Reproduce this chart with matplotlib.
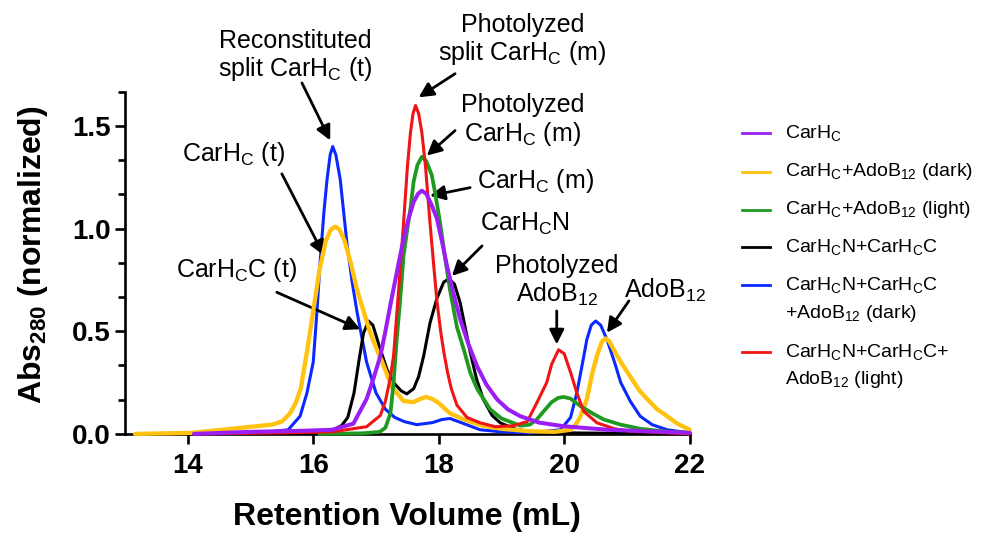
import matplotlib
matplotlib.use("Agg")
import matplotlib.pyplot as plt
from matplotlib.lines import Line2D
from matplotlib.ticker import MultipleLocator, FormatStrFormatter

plt.rcParams['font.family'] = ['Liberation Sans', 'DejaVu Sans']
plt.rcParams['mathtext.fontset'] = 'custom'
plt.rcParams['mathtext.rm'] = 'Liberation Sans'
plt.rcParams['mathtext.bf'] = 'Liberation Sans:bold'
plt.rcParams['mathtext.default'] = 'regular'

# CarHC
x_purple = [14.1, 15.0, 15.8, 16.3, 16.64, 16.85, 16.96, 17.07, 17.15, 17.23, 17.34, 17.44, 17.52, 17.6, 17.67,
            17.73, 17.8, 17.88, 17.97, 18.05, 18.13, 18.23, 18.34, 18.47, 18.61, 18.76, 18.93, 19.1, 19.3,
            19.6, 20.0, 20.7, 22.0]
y_purple = [0.0, 0.01, 0.015, 0.02, 0.05, 0.17, 0.27, 0.38, 0.5, 0.63, 0.8, 0.95, 1.05, 1.13, 1.17,
            1.185, 1.17, 1.12, 1.05, 0.94, 0.82, 0.69, 0.56, 0.44, 0.33, 0.24, 0.168, 0.12, 0.086,
            0.055, 0.037, 0.02, 0.005]

# CarHC + AdoB12 (dark)
x_yellow = [13.16, 14.06, 14.86, 15.34, 15.5, 15.63, 15.72, 15.8, 15.9, 16.0, 16.1, 16.2, 16.28, 16.35, 16.42,
            16.5, 16.6, 16.7, 16.8, 16.9, 17.0, 17.1, 17.25, 17.44, 17.6, 17.7, 17.8, 17.9, 18.0, 18.18,
            18.4, 18.7, 19.0, 19.45, 19.85, 20.1, 20.18, 20.25, 20.3, 20.36, 20.45, 20.52, 20.6, 20.66,
            20.72, 20.79, 20.9, 21.05, 21.2, 21.32, 21.48, 21.64, 21.8, 22.0]
y_yellow = [0.0, 0.005, 0.03, 0.045, 0.06, 0.1, 0.15, 0.22, 0.4, 0.6, 0.8, 0.94, 0.995, 1.01, 0.995,
            0.94, 0.83, 0.7, 0.6, 0.5, 0.42, 0.35, 0.23, 0.16, 0.155, 0.17, 0.18, 0.17, 0.15, 0.1,
            0.07, 0.04, 0.025, 0.013, 0.01, 0.02, 0.045, 0.08, 0.12, 0.17, 0.3, 0.38, 0.45, 0.465,
            0.45, 0.41, 0.35, 0.28, 0.21, 0.17, 0.12, 0.086, 0.05, 0.02]

# CarHC + AdoB12 (light)
x_green = [16.1, 16.8, 17.06, 17.15, 17.23, 17.28, 17.33, 17.39, 17.44, 17.5, 17.55, 17.6, 17.66, 17.73,
           17.8, 17.89, 17.95, 18.02, 18.1, 18.18, 18.29, 18.4, 18.5, 18.61, 18.82, 19.0, 19.3, 19.45,
           19.56, 19.7, 19.8, 19.9, 19.99, 20.1, 20.26, 20.45, 20.63, 20.9, 21.21, 21.6, 22.0]
y_green = [0.0, 0.003, 0.01, 0.03, 0.1, 0.25, 0.46, 0.67, 0.87, 1.0, 1.1, 1.23, 1.31, 1.35,
           1.33, 1.26, 1.16, 1.03, 0.86, 0.7, 0.52, 0.41, 0.3, 0.22, 0.12, 0.075, 0.04, 0.045,
           0.07, 0.12, 0.155, 0.175, 0.18, 0.172, 0.135, 0.1, 0.07, 0.045, 0.025, 0.012, 0.005]

# CarHCN + CarHCC
x_black = [14.0, 15.5, 16.0, 16.32, 16.45, 16.55, 16.65, 16.73, 16.8, 16.88, 16.95, 17.06, 17.18, 17.28,
           17.4, 17.49, 17.6, 17.68, 17.76, 17.86, 17.97, 18.08, 18.16, 18.25, 18.34, 18.42, 18.5, 18.6,
           18.71, 18.85, 18.98, 19.2, 19.41, 20.0, 22.0]
y_black = [0.0, 0.005, 0.01, 0.02, 0.04, 0.08, 0.2, 0.36, 0.49, 0.55, 0.53, 0.42, 0.31, 0.25,
           0.21, 0.195, 0.22, 0.28, 0.38, 0.54, 0.66, 0.74, 0.755, 0.73, 0.64, 0.52, 0.4, 0.27,
           0.168, 0.09, 0.054, 0.025, 0.013, 0.005, 0.0]

# CarHCN + CarHCC + AdoB12 (dark)
x_blue = [14.5, 15.3, 15.6, 15.79, 15.9, 16.0, 16.06, 16.11, 16.17, 16.22, 16.27, 16.31, 16.36, 16.43,
          16.54, 16.62, 16.7, 16.85, 17.0, 17.15, 17.3, 17.45, 17.65, 17.9, 18.05, 18.18, 18.4, 18.66,
          19.0, 19.45, 19.94, 20.1, 20.2, 20.3, 20.36, 20.43, 20.5, 20.58, 20.68, 20.8, 20.9, 21.05,
          21.21, 21.4, 21.64, 22.0]
y_blue = [0.0, 0.01, 0.02, 0.086, 0.2, 0.35, 0.6, 0.84, 1.08, 1.24, 1.36, 1.40, 1.36, 1.24,
          0.92, 0.74, 0.59, 0.35, 0.2, 0.12, 0.08, 0.06, 0.045, 0.055, 0.07, 0.075, 0.05, 0.02,
          0.01, 0.005, 0.02, 0.08, 0.2, 0.36, 0.46, 0.53, 0.55, 0.53, 0.46, 0.35, 0.25, 0.16,
          0.086, 0.045, 0.02, 0.005]

# CarHCN + CarHCC + AdoB12 (light)
x_red = [14.2, 15.5, 16.3, 16.85, 17.07, 17.15, 17.22, 17.28, 17.36, 17.44, 17.5, 17.55, 17.59, 17.63,
         17.68, 17.73, 17.79, 17.86, 17.92, 17.97, 18.03, 18.08, 18.14, 18.2, 18.29, 18.45, 18.66, 18.9,
         19.19, 19.41, 19.56, 19.72, 19.8, 19.91, 20.0, 20.1, 20.2, 20.31, 20.52, 20.8, 21.05, 22.0]
y_red = [0.0, 0.005, 0.01, 0.035, 0.09, 0.16, 0.26, 0.38, 0.7, 1.03, 1.3, 1.47, 1.56, 1.60,
         1.56, 1.47, 1.3, 1.03, 0.82, 0.65, 0.5, 0.4, 0.3, 0.22, 0.14, 0.08, 0.054, 0.035,
         0.04, 0.06, 0.15, 0.25, 0.34, 0.41, 0.39, 0.3, 0.2, 0.11, 0.054, 0.025, 0.013, 0.0]

labels = [r'CarH$_C$', r'CarH$_C$+AdoB$_{12}$ (dark)', r'CarH$_C$+AdoB$_{12}$ (light)',
          r'CarH$_C$N+CarH$_C$C', 'CarH$_C$N+CarH$_C$C\n+AdoB$_{12}$ (dark)',
          'CarH$_C$N+CarH$_C$C+\nAdoB$_{12}$ (light)']

fig = plt.figure(figsize=(9.84, 5.37), dpi=100)
ax = fig.add_axes([0.127, 0.192, 0.574, 0.637])

series = [(x_purple, y_purple, '#9B1EF5', 2.9, 3.6),
          (x_yellow, y_yellow, '#FFC20E', 3.1, 3.2),
          (x_green, y_green, '#1F9A1F', 2.7, 3.3),
          (x_black, y_black, 'black', 2.2, 3.1),
          (x_blue, y_blue, '#0A28FF', 2.2, 3.0),
          (x_red, y_red, '#F01414', 2.2, 3.4)]
for xs, ys, c, lw, z in series:
    ax.plot(xs, ys, color=c, lw=lw, zorder=z, clip_on=False,
            solid_joinstyle='round', solid_capstyle='round')

ax.set_xlim(13, 22)
ax.set_ylim(0, 1.6667)
ax.set_xticks([14, 16, 18, 20, 22])
ax.yaxis.set_major_locator(MultipleLocator(0.5))
ax.yaxis.set_minor_locator(MultipleLocator(0.5 / 3))
ax.yaxis.set_major_formatter(FormatStrFormatter('%.1f'))
for s in ['top', 'right']:
    ax.spines[s].set_visible(False)
for s in ['left', 'bottom']:
    ax.spines[s].set_linewidth(1.9)
ax.tick_params(which='major', length=7, width=1.9, labelsize=20, pad=3)
ax.tick_params(axis='x', which='major', pad=7)
ax.tick_params(which='minor', length=5, width=1.9)
for t in ax.get_xticklabels() + ax.get_yticklabels():
    t.set_fontweight('bold')

ax.set_xlabel('Retention Volume (mL)', fontsize=23, fontweight='bold', va='center')
ax.set_ylabel(r'Abs$_\mathbf{280}$ (normalized)', fontsize=23, fontweight='bold', va='center')
ax.xaxis.set_label_coords(0.5, -0.243)
ax.yaxis.set_label_coords(-0.163, 0.525)

# annotations: (text, text pos, arrow tail, arrow head)
notes = [('Reconstituted\nsplit CarH$_C$ (t)', (15.71, 1.84), (15.82, 1.71), (16.27, 1.43)),
         ('CarH$_C$ (t)', (14.73, 1.365), (15.5, 1.267), (16.17, 0.87)),
         ('CarH$_C$C (t)', (14.78, 0.80), (15.42, 0.69), (16.75, 0.51)),
         ('Photolyzed\nsplit CarH$_C$ (m)', (19.33, 1.918), (18.26, 1.755), (17.68, 1.64)),
         ('Photolyzed\nCarH$_C$ (m)', (19.33, 1.527), (18.26, 1.478), (17.81, 1.356)),
         ('CarH$_C$ (m)', (19.54, 1.234), (18.5, 1.20), (17.86, 1.16)),
         ('CarH$_C$N', (19.38, 1.022), (18.69, 0.916), (18.21, 0.77)),
         ('Photolyzed\nAdoB$_{12}$', (19.88, 0.745), (19.88, 0.599), (19.88, 0.436)),
         ('AdoB$_{12}$', (21.61, 0.697), (21.03, 0.648), (20.68, 0.493))]
for txt, tp, tail, head in notes:
    ax.text(tp[0], tp[1], txt, fontsize=18, ha='center', va='center', linespacing=1.1,
            clip_on=False)
    ax.annotate('', xy=head, xytext=tail, annotation_clip=False,
                arrowprops=dict(arrowstyle='-|>', color='black', lw=2,
                                mutation_scale=22, shrinkA=0, shrinkB=0))

# legend drawn by hand so the line sits beside the first text line
leg_rows = [133, 172, 210, 247, 285, 352]
for (xs, ys, c, lw, z), lab, row in zip(series, labels, leg_rows):
    fy = 1 - row / 537
    fig.add_artist(Line2D([742 / 984, 770 / 984], [fy, fy], color=c, lw=2,
                          transform=fig.transFigure))
    for i, part in enumerate(lab.split('\n')):
        fig.text(785 / 984, 1 - (row + 28 * i) / 537, part, fontsize=14,
                 ha='left', va='center')

fig.savefig('out.png', dpi=100)
